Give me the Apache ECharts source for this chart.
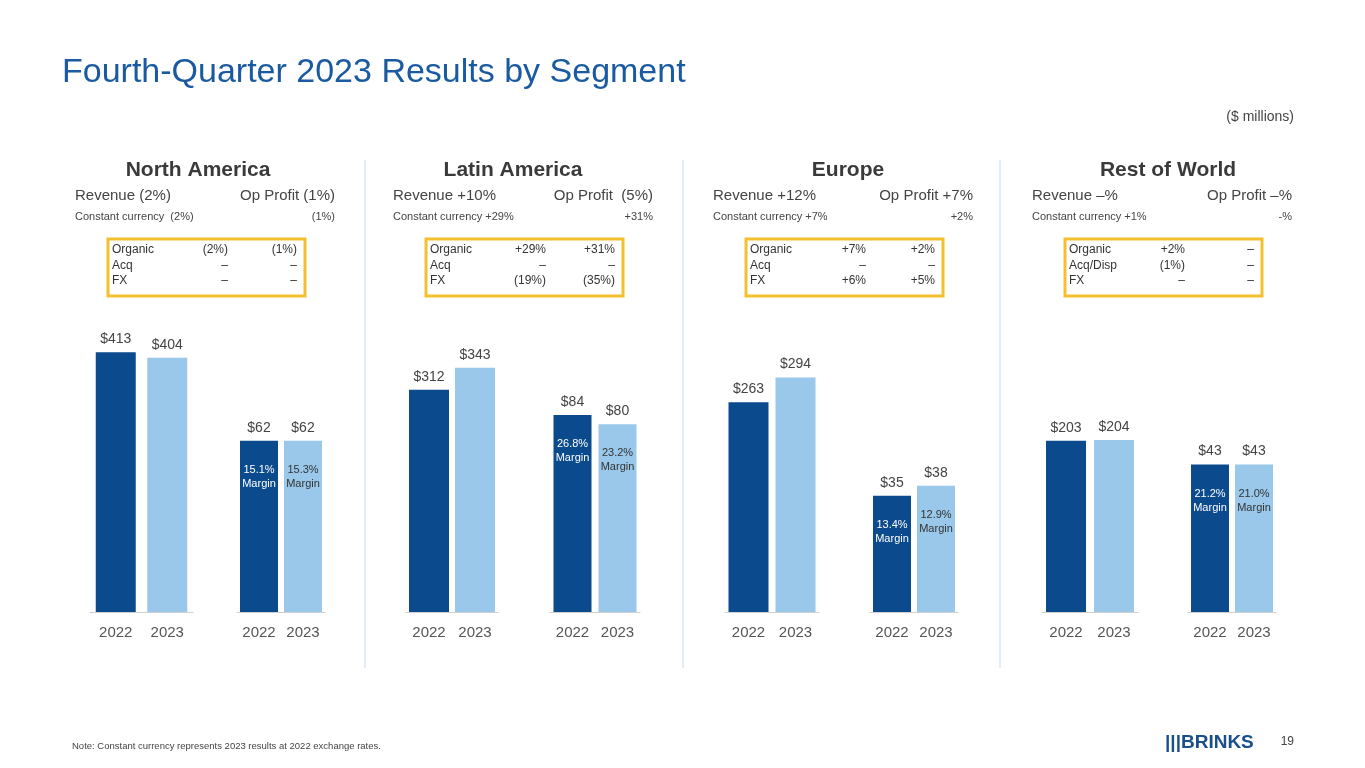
<!DOCTYPE html>
<html><head><meta charset="utf-8">
<script src="https://cdn.jsdelivr.net/npm/echarts@6/dist/echarts.min.js"></script>
<style>html,body{margin:0;padding:0;background:#fff}#main{width:1365px;height:768px}</style>
</head><body><div id="main"></div>
<script>
var years = ['2022', '2023'];
var segments = ['North America', 'Latin America', 'Europe', 'Rest of World'];
var revenue = [[413, 404], [312, 343], [263, 294], [203, 204]];
var opProfit = [[62, 62], [84, 80], [35, 38], [43, 43]];
var margins = [['15.1%', '15.3%'], ['26.8%', '23.2%'], ['13.4%', '12.9%'], ['21.2%', '21.0%']];
var revText = ['Revenue (2%)', 'Revenue +10%', 'Revenue +12%', 'Revenue \u2013%'];
var opText = ['Op Profit (1%)', 'Op Profit  (5%)', 'Op Profit +7%', 'Op Profit \u2013%'];
var ccRev = ['Constant currency  (2%)', 'Constant currency +29%', 'Constant currency +7%', 'Constant currency +1%'];
var ccOp = ['(1%)', '+31%', '+2%', '-%'];
var boxRows = [
  [['Organic', '(2%)', '(1%)'], ['Acq', '\u2013', '\u2013'], ['FX', '\u2013', '\u2013']],
  [['Organic', '+29%', '+31%'], ['Acq', '\u2013', '\u2013'], ['FX', '(19%)', '(35%)']],
  [['Organic', '+7%', '+2%'], ['Acq', '\u2013', '\u2013'], ['FX', '+6%', '+5%']],
  [['Organic', '+2%', '\u2013'], ['Acq/Disp', '(1%)', '\u2013'], ['FX', '\u2013', '\u2013']]
];

var dark = '#0b4a8c', light = '#99c8ea';
var offs = [0, 318, 638, 957];
var revGrid = [[90, 103, 496], [406, 92, 438], [725, 94, 391], [1042, 96, 370]];
var opGrid = [[237, 88, 113], [550, 90, 133], [870, 88, 94], [1188, 88, 91]];
var opW = [38, 38, 38, 38];

var myChart = echarts.init(document.getElementById('main'));
var grids = [], xAxes = [], yAxes = [], series = [], graphics = [];

function addGrid(g, vals, bw, marg) {
    var idx = grids.length;
    grids.push({left: g[0], width: g[1], top: 300, bottom: 156});
    xAxes.push({gridIndex: idx, type: 'category', data: years,
        axisLine: {lineStyle: {color: '#d0d0d0'}}, axisTick: {show: false},
        axisLabel: {color: '#555', fontSize: 15, margin: 13, fontFamily: 'Arial'}});
    yAxes.push({gridIndex: idx, type: 'value', min: 0, max: g[2], show: false, splitLine: {show: false}});
    series.push({type: 'bar', xAxisIndex: idx, yAxisIndex: idx, barWidth: bw,
        data: vals.map(function (v, i) { return {value: v, itemStyle: {color: i ? light : dark}}; }),
        label: {show: true, position: 'top', distance: 6, color: '#444', fontSize: 14, fontFamily: 'Arial',
            formatter: function (p) { return '$' + p.value; }}});
    if (marg) {
        series.push({type: 'bar', xAxisIndex: idx, yAxisIndex: idx, barWidth: bw, barGap: '-100%',
            data: vals.map(function (v, i) {
                return {value: v, itemStyle: {color: 'rgba(0,0,0,0)'},
                    label: {color: i ? '#333' : '#fff'}};
            }),
            label: {show: true, position: 'insideTop', distance: 22, fontSize: 11, lineHeight: 14,
                fontFamily: 'Arial', formatter: function (p) { return marg[p.dataIndex] + '\nMargin'; }}});
    }
}

for (var s = 0; s < 4; s++) {
    addGrid(revGrid[s], revenue[s], 40, null);
    addGrid(opGrid[s], opProfit[s], opW[s], margins[s]);
    var o = offs[s];
    var hc = [198, 513, 848, 1168][s];
    graphics.push({type: 'text', x: hc, y: 160, style: {text: segments[s], fontSize: 21, fontWeight: 'bold',
        fill: '#3a3a3a', fontFamily: 'Arial', textAlign: 'center'}});
    graphics.push({type: 'text', x: 75 + o, y: 188, style: {text: revText[s], fontSize: 15, fill: '#444', fontFamily: 'Arial'}});
    graphics.push({type: 'text', x: 335 + o, y: 188, style: {text: opText[s], fontSize: 15, fill: '#444', fontFamily: 'Arial', textAlign: 'right'}});
    graphics.push({type: 'text', x: 75 + o, y: 211, style: {text: ccRev[s], fontSize: 11, fill: '#444', fontFamily: 'Arial'}});
    graphics.push({type: 'text', x: 335 + o, y: 211, style: {text: ccOp[s], fontSize: 11, fill: '#444', fontFamily: 'Arial', textAlign: 'right'}});
    graphics.push({type: 'rect', shape: {x: 108 + o, y: 239, width: 197, height: 57},
        style: {fill: 'none', stroke: '#f5c02e', lineWidth: 3}});
    for (var r = 0; r < 3; r++) {
        var row = boxRows[s][r], ty = 244 + r * 15.5;
        graphics.push({type: 'text', x: 112 + o, y: ty, style: {text: row[0], fontSize: 12, fill: '#333', fontFamily: 'Arial'}});
        graphics.push({type: 'text', x: 228 + o, y: ty, style: {text: row[1], fontSize: 12, fill: '#333', fontFamily: 'Arial', textAlign: 'right'}});
        graphics.push({type: 'text', x: 297 + o, y: ty, style: {text: row[2], fontSize: 12, fill: '#333', fontFamily: 'Arial', textAlign: 'right'}});
    }
}
[365, 683, 1000].forEach(function (x) {
    graphics.push({type: 'line', shape: {x1: x, y1: 160, x2: x, y2: 668}, style: {stroke: '#c5dff2', lineWidth: 1}});
});
graphics.push({type: 'text', x: 62, y: 56, style: {text: 'Fourth-Quarter 2023 Results by Segment', fontSize: 34, fill: '#1a5aa0', fontFamily: 'Arial'}});
graphics.push({type: 'text', x: 1294, y: 110, style: {text: '($ millions)', fontSize: 14, fill: '#444', fontFamily: 'Arial', textAlign: 'right'}});
graphics.push({type: 'text', x: 72, y: 741, style: {text: 'Note: Constant currency represents 2023 results at 2022 exchange rates.', fontSize: 9.5, fill: '#444', fontFamily: 'Arial'}});
graphics.push({type: 'text', x: 1165, y: 733, style: {text: '|||BRINKS', fontSize: 19, fontWeight: 'bold', fill: '#1a4f8c', fontFamily: 'Arial'}});
graphics.push({type: 'text', x: 1294, y: 736, style: {text: '19', fontSize: 12, fill: '#444', fontFamily: 'Arial', textAlign: 'right'}});

var option = {
    animation: false,
    grid: grids, xAxis: xAxes, yAxis: yAxes, series: series,
    graphic: graphics
};
myChart.setOption(option);
</script></body></html>
